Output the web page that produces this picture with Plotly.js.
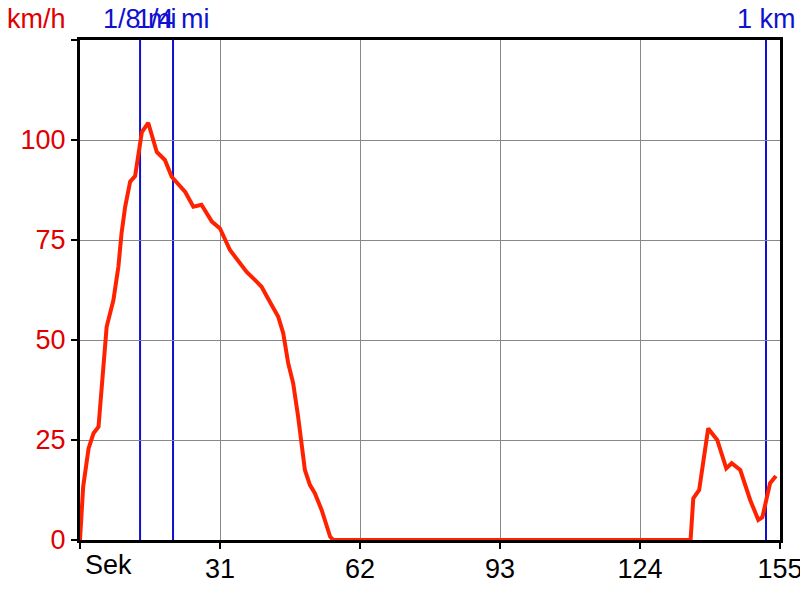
<!DOCTYPE html>
<html>
<head>
<meta charset="utf-8">
<script src="https://cdn.plot.ly/plotly-3.0.1.min.js"></script>
<style>html,body{margin:0;padding:0;background:#fff}#chart{width:800px;height:600px}</style>
</head>
<body>
<div id="chart"></div>
<script>
// Time (seconds) and speed (km/h)
const timeSec = [0, 0.7, 1.9, 3.0, 4.1, 4.8, 5.9, 7.4, 8.5, 9.2, 10.0, 11.1, 12.2, 13.7, 15.1, 17.0, 18.8, 20.3, 21.8, 23.3, 25.1, 26.9, 29.2, 31.0, 33.2, 34.7, 36.9, 39.1, 40.2, 42.4, 43.9, 45.0, 46.1, 47.2, 48.3, 49.8, 50.9, 52.0, 53.5, 55.4, 56.1, 135.2, 135.8, 137.1, 139.1, 141.1, 143.1, 144.3, 146.2, 148.4, 150.2, 151.1, 152.8, 154.1];
const speedKmh = [0, 13.3, 22.9, 26.7, 28.3, 39.0, 53.3, 60.0, 68.3, 76.7, 83.3, 89.6, 91.0, 102.0, 104.3, 97.0, 95.0, 90.8, 88.8, 87.0, 83.3, 83.8, 79.6, 77.9, 72.5, 70.4, 67.0, 64.6, 63.3, 58.8, 55.8, 51.7, 44.2, 39.2, 30.8, 17.5, 13.8, 11.7, 7.5, 0.8, 0, 0, 10.4, 12.5, 27.9, 25.0, 17.9, 19.2, 17.5, 10.0, 5.0, 5.7, 14.2, 16.0];

// Distance markers
const markerTime = [13.3, 20.6, 151.9];
const markerLabels = ['1/8 mi', '1/4 mi', '1 km'];

// Axis ticks
const xTickVals = [0, 31, 62, 93, 124, 155];
const xTickText = ['', '31', '62', '93', '124', '155'];
const yTickVals = [0, 25, 50, 75, 100, 125];
const yTickText = ['0', '25', '50', '75', '100', ''];

const FONT = 'Liberation Sans, Arial, sans-serif';
const BLUE = '#1010d0';
const RED = '#ff2200';
const TXTRED = '#e00000';

const shapes = markerTime.map(t => ({
  type: 'line', xref: 'x', yref: 'paper', x0: t, x1: t, y0: 0, y1: 1,
  line: {color: BLUE, width: 2}, layer: 'below'
}));

const annotations = markerTime.map((t, i) => ({
  x: t, xref: 'x', y: 1, yref: 'paper', yanchor: 'bottom', yshift: 4,
  text: markerLabels[i], showarrow: false, xanchor: 'center',
  font: {family: FONT, size: 27, color: BLUE}
}));
annotations.push({
  x: 0, xref: 'paper', y: 1, yref: 'paper', xanchor: 'right', yanchor: 'bottom',
  xshift: -12, yshift: 4, text: 'km/h', showarrow: false,
  font: {family: FONT, size: 27, color: TXTRED}
});
annotations.push({
  x: 0, xref: 'x', y: 0, yref: 'paper', xanchor: 'left', yanchor: 'top',
  xshift: 3, yshift: -8, text: 'Sek', showarrow: false,
  font: {family: FONT, size: 27, color: '#000'}
});

const data = [{
  x: timeSec, y: speedKmh, type: 'scatter', mode: 'lines',
  line: {color: RED, width: 4}, hoverinfo: 'skip'
}];

const layout = {
  width: 800, height: 600,
  margin: {l: 80, r: 20, t: 40, b: 60},
  paper_bgcolor: '#fff', plot_bgcolor: '#fff',
  showlegend: false,
  font: {family: FONT},
  xaxis: {
    range: [0, 155], tickmode: 'array', tickvals: xTickVals, ticktext: xTickText,
    showgrid: true, gridcolor: '#888', gridwidth: 1,
    showline: true, linecolor: '#000', linewidth: 3, mirror: true,
    ticks: 'outside', ticklen: 6, tickwidth: 2, tickcolor: '#000',
    tickfont: {family: FONT, size: 27, color: '#000'},
    ticklabeloverflow: 'allow', ticklabelstandoff: -3,
    zeroline: false, fixedrange: true
  },
  yaxis: {
    range: [0, 125], tickmode: 'array', tickvals: yTickVals, ticktext: yTickText,
    showgrid: true, gridcolor: '#888', gridwidth: 1,
    showline: true, linecolor: '#000', linewidth: 3, mirror: true,
    ticks: 'outside', ticklen: 6, tickwidth: 2, tickcolor: '#000',
    tickfont: {family: FONT, size: 27, color: TXTRED},
    ticklabeloverflow: 'allow',
    zeroline: false, fixedrange: true
  },
  shapes: shapes,
  annotations: annotations
};

Plotly.newPlot('chart', data, layout, {staticPlot: true});
</script>
</body>
</html>
